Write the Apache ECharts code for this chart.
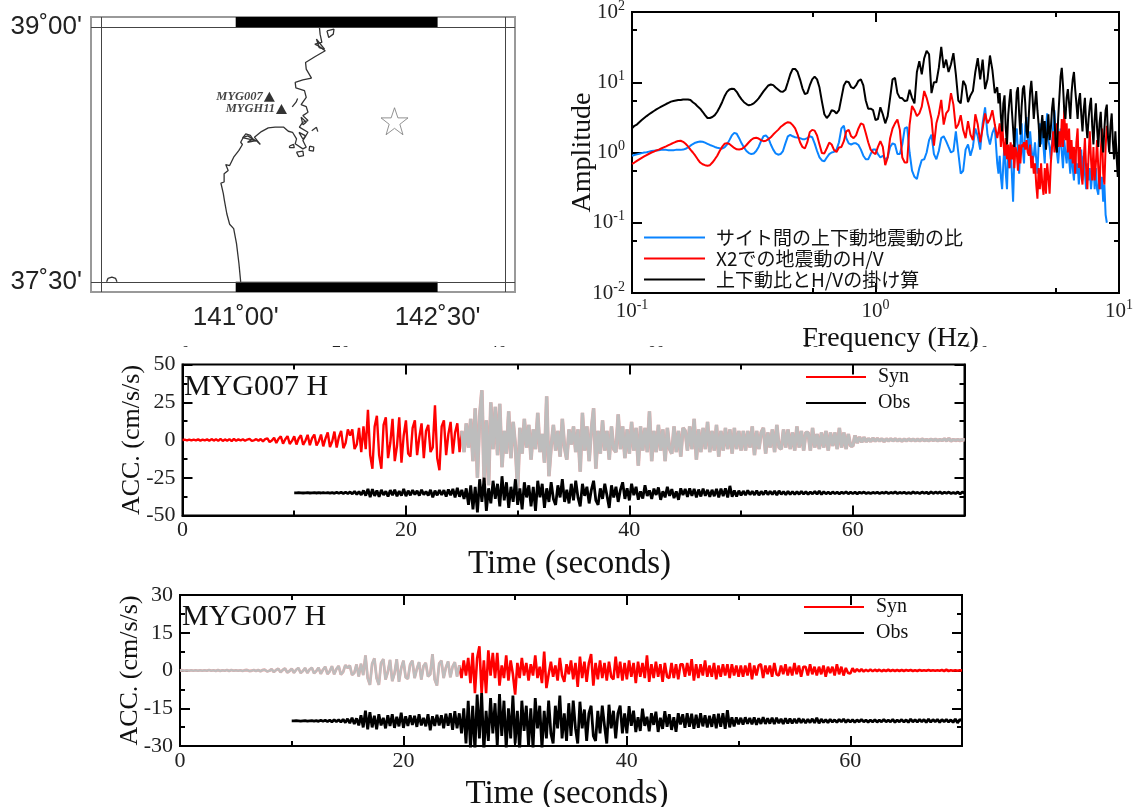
<!DOCTYPE html>
<html><head><meta charset="utf-8">
<style>html,body{margin:0;padding:0;background:#fff}#c{width:1134px;height:807px}</style>
<script src="https://cdn.jsdelivr.net/npm/echarts@6/dist/echarts.min.js"></script>
</head><body><div id="c"></div>
<script>
// ---------- map ----------
const coastLon=[141.037,141.024,141.006,140.985,140.955,140.934,140.916,140.908,140.890,140.914,140.914,140.944,140.926,140.955,140.985,141.024,141.05,141.037,141.057,141.075,141.109,141.126,141.088,141.152,141.183,141.139,141.191,141.242,141.293,141.357,141.391,141.422,141.452,141.442,141.499,141.524,141.499,141.537,141.473,141.499,141.537,141.499,141.537,141.524,141.486,141.524,141.511,141.447,141.442,141.499,141.563,141.524,141.519,141.588,141.665,141.614,141.588,141.64,141.627,141.622];
const coastLat=[37.5,37.608,37.725,37.813,37.839,37.901,37.98,38.019,38.082,38.088,38.136,38.156,38.191,38.185,38.234,38.274,38.309,38.322,38.352,38.371,38.362,38.342,38.322,38.332,38.309,38.352,38.385,38.407,38.411,38.411,38.387,38.381,38.342,38.313,38.283,38.293,38.332,38.381,38.411,38.44,38.45,38.479,38.499,38.532,38.544,38.587,38.626,38.642,38.675,38.689,38.7,38.753,38.792,38.826,38.861,38.89,38.9,38.91,38.959,39.0];
const islandLon=[141.452,141.499,141.504,141.468,141.452,null,141.40,141.43,141.435,141.40,141.40,null,141.55,141.58,141.577,141.545,141.55,null,141.565,141.60,141.61,null,141.678,141.73,141.725,141.691,141.678,null,140.041,140.051,140.080,140.108,140.118,null,141.42,141.45,141.46,null,141.47,141.52,141.50,141.47,null,141.486,141.524,141.50,141.486,null,141.6,141.66,141.62,141.6,null,141.05,141.09,141.15,141.10,141.05];
const islandLat=[38.264,38.27,38.244,38.238,38.264,null,38.30,38.31,38.29,38.29,38.30,null,38.30,38.293,38.27,38.274,38.30,null,38.39,38.41,38.385,null,38.978,38.988,38.959,38.939,38.978,null,37.5,37.52,37.527,37.52,37.5,null,38.53,38.56,38.58,null,38.38,38.36,38.34,38.38,null,38.47,38.44,38.425,38.47,null,38.93,38.87,38.88,38.93,null,38.35,38.36,38.33,38.34,38.35];
const stations=[{name:'MYG007',lon:141.25,lat:38.59},{name:'MYGH11',lon:141.34,lat:38.518}];
const epicenter=[142.18,38.446];
const mapLonTicks=[141,142.5];
const mapLatTicks=[37.5,39];

// ---------- spectra: grid is log10(f)=-1..0.5 at 0.01, then 0.5..1 at 0.005 ----------
const blackAmp=[2.2,2.4,2.5,2.7,2.9,3.1,3.3,3.5,3.7,3.9,
4.1,4.3,4.5,4.7,4.9,5.1,5.3,5.4,5.5,5.6,
5.6,5.7,5.7,5.7,5.6,5.2,4.9,4.5,4.2,3.8,
3.4,3.1,3.1,3.2,3.4,3.8,4.4,5.2,6.3,7.3,
7.9,8.1,8.0,7.3,6.4,5.7,5.2,4.9,4.7,4.8,
5.0,5.4,5.9,6.6,7.4,8.2,9.0,9.3,9.1,8.4,
7.9,7.4,7.3,7.8,10,13,15.5,15.5,14,11,
8.2,6.8,7.0,9,11,12,11,8.4,5.3,3.5,
3.1,3.4,4.0,3.9,3.6,4.0,6,9,10.3,10,
8.5,8.2,9,10.5,11,9,5.5,4.2,4.2,4.0,
2.9,3.0,4.4,3.5,2.6,3.3,6,11,11.5,7,
6,5.9,5.4,5.5,7.8,6,5,14,20,13,
22,28,25,7,10,10,16,32,16,21,
14,18,26,13,5.5,5,10.5,9,5.2,6.5,
7.5,14,22,11,21,8,11,24,15,7,
8.5,
5,7,3.2,2,5,6.5,2.2,1.3,3.4,5.5,
8,4,2.2,1.2,3.1,7.2,8.5,3.5,1.8,4.4,
8,9,5,2,1.6,3.6,7.4,10.5,6,3,
5,7.5,4,2.5,1.2,2.2,3.4,1.6,2.8,1.1,
1.8,3.5,1.5,2.2,4.2,6,3,1.3,1,3,
6,12,16,9,4,3,6,8,5,3,
7,11,14,8,5,3,5.5,7,3.5,2,
4,6,2.6,1.6,3,4.6,6,2.4,1.3,3,
5,2.2,1.2,2.6,3.8,1.5,1,2.2,4,4.8,
1.6,1,2.4,3.6,1.4,.8,2,.9,.45,1.4];
const blueAmp=[.9,.92,.94,.96,.98,1.0,1.01,1.03,1.05,1.06,
1.07,1.08,1.09,1.09,1.09,1.08,1.08,1.08,1.09,1.09,
1.09,1.1,1.13,1.18,1.25,1.32,1.38,1.41,1.43,1.42,
1.38,1.33,1.28,1.24,1.2,1.17,1.15,1.14,1.18,1.3,
1.5,1.75,1.9,1.85,1.6,1.35,1.18,1.05,.98,.95,
.97,1.05,1.2,1.45,1.7,1.75,1.6,1.3,1.1,.97,
.93,.95,1.05,1.35,1.7,1.78,1.7,1.65,1.63,1.6,
1.55,1.55,1.6,1.7,1.65,1.35,1.05,.85,.77,.75,
.85,.95,1.0,1.02,1.1,1.4,2.2,2.4,1.6,1.35,
1.3,1.35,1.35,1.28,1.1,.9,.8,.8,.95,1.1,
1.1,.95,.85,.9,.8,.85,1.2,1.35,1.3,.95,
.95,1.3,2.2,2.3,1.0,.55,.45,.42,.6,.78,
.8,1.0,1.5,1.8,.95,.8,1.05,1.6,1.7,1.45,
1.2,1.0,1.05,2.0,1.0,.5,.55,1.1,1.3,.9,
1.2,2.2,1.7,1.1,2.6,4.4,1.8,1.3,1.9,2.3,
.7,
.5,.9,.45,.3,.7,1.4,.5,.3,1.1,.6,
1.3,.5,.2,.8,1.6,2.2,1.0,.5,1.4,2.6,
1.1,.7,2.4,3.2,1.5,1.0,2,1.2,.8,.9,
1.4,.8,.5,1.3,2.6,1.3,3.0,1.2,.7,2.2,
3.6,1.5,1.2,.8,1.4,2.4,4,1.5,1.0,.7,
1.2,2.2,1,.6,1.5,1.0,.7,1.4,.8,.5,
1.2,.6,.4,1,.5,.7,.35,.6,1.1,.4,
.9,.5,.3,.7,.4,.6,.3,.5,.8,.3,
.6,.3,.25,.5,.3,.45,.2,.35,.13,.1];
const redAmp=[.69,.72,.76,.8,.84,.88,.92,.96,1.0,1.03,
1.07,1.1,1.14,1.18,1.22,1.27,1.32,1.37,1.42,1.46,
1.47,1.42,1.33,1.22,1.1,1.0,.9,.8,.72,.68,
.66,.65,.66,.72,.8,.9,1.05,1.2,1.33,1.36,
1.32,1.24,1.16,1.11,1.1,1.12,1.18,1.28,1.4,1.52,
1.6,1.62,1.58,1.5,1.45,1.47,1.55,1.65,1.8,1.95,
2.1,2.3,2.45,2.6,2.7,2.65,2.45,2.2,1.8,1.4,
1.2,1.14,1.4,1.95,2.1,2.05,1.75,1.3,.98,.97,
1.15,1.38,1.3,1.08,1.02,1.18,1.2,1.45,2.0,2.1,
1.7,1.6,1.75,2.2,2.6,2.5,1.9,1.4,1.1,1.0,
.95,1.2,1.45,1.2,.66,.85,1.6,2.2,2.6,2.95,
2.1,.85,.72,.72,2.5,4.6,4.0,3.3,3.6,4.5,
7.5,6,4.4,3,1.25,2.6,3.5,5.6,2.5,3.6,
4,7,4.8,2.2,2.5,3.4,2.1,1.6,2.8,1.8,
1.5,3.5,2.5,1.4,2.2,3.6,2.6,3.0,4.0,2.5,
1.6,
2.0,2.6,1.2,2.8,1.4,.9,1.6,.8,1.3,.6,
1.4,.8,1.3,.6,1.2,1.0,.55,1.3,.7,1.3,
1.2,1.4,1.1,1.5,1.0,.9,1.3,.6,.9,.5,
.7,.35,.22,.6,.3,.7,.35,.25,.6,.26,
.7,.45,.26,.7,1.2,2,1.0,1.6,2.6,1.2,
2,1.2,3,1.2,4,1.5,2.6,1.0,2.2,.8,
1.5,.7,1.2,.5,1.4,2.2,.6,1.2,.5,.35,
.8,1.6,.6,.3,.9,2,.8,.4,1.2,.4,
.7,1.5,.6,.3,1.0,2.2,.5,.35,1.2,2.4];
const spectrumNames=['サイト間の上下動地震動の比','X2での地震動のH/V','上下動比とH/Vの掛け算'];

// ---------- waveforms, 0.2 s samples ----------
const synDt=0.2, obsStart=10, obsDt=0.2, grayFrom=125;
const syn1=[0,.2,-.2,.3,-.3,.2,-.3,.4,-.4,.3,-.2,.4,-.5,.6,-.4,.5,-.6,.7,-.6,.4,-.5,.6,-.7,.8,-.5,
.4,-.3,.5,-.5,.3,.7,-.6,-.2,.6,-.5,.7,-.9,.6,1.1,-1.4,-.4,1.5,-2,.8,2.4,-2.4,.5,2.6,-2.6,-.6,
2.4,-3,1,3.2,-3.2,-.5,3.4,-3.4,1.2,3.6,-3.6,-.8,3.6,-4.2,1,5,-4.6,-1,5.6,-5,2,6,-5.4,-2,7,
3,7,-6,-3,8,-8,9,-6,20,-10,-19,9,16,-10,-19,10,15,-12,-2,14,-14,-4,15,-15,3,
13,-9,-11,8,13,-10,2,11,-12,6,10,-8,-5,23,-12,-20,9,13,-10,4,12,-9,5,11,-8,
6,-8,11,-5,14,-14,21,-25,16,33,-28,13,-30,25,-6,22,-10,24,-18,6,-9,19,-12,12,-4,
-33,8,-9,14,-5,10,-13,7,-6,18,-8,4,-15,29,-24,-4,10,-7,6,-11,14,-5,-13,7,-3,
9,-8,7,-21,18,-7,9,-14,7,21,-19,6,-9,13,-7,6,-13,9,-6,-8,17,-6,9,-12,7,
-9,12,-7,8,-17,9,-7,8,-8,19,-14,6,-8,10,-7,7,-14,8,-6,-9,9,-8,6,-11,8,
6,-7,9,-6,14,-13,7,-8,8,-6,12,-8,6,-7,10,-11,6,-7,8,-6,7,-9,8,-6,6,
-7,6,-7,6,-5,9,-10,6,-6,5,8,-9,5,-5,7,-8,10,-5,-6,7,-5,7,-6,5,-7,
9,-5,6,-7,5,5,-7,8,-5,4,-6,5,-5,6,-7,5,-4,5,-6,8,-5,5,-6,4,-4,
-4,3,-2,2,-1.5,1.8,-1.2,1,-1,1.2,-.8,1,-.7,.8,-1,.7,-.6,.8,-.5,.7,-.6,.5,-.7,.5,-.5,
.6,-.4,.5,-.5,.4,-.5,.6,-.4,.3,-.4,.5,-.3,.4,-.4,.3,-.3,.7,-.5,1,-.6,.3,-.3,.2,-.3,.2,0];
const obs1=[0,0,.1,0,-.1,0,.1,-.1,0,.1,-.1,.1,-.1,.2,-.1,.2,-.2,.2,-.3,.3,-.3,.4,-.4,.5,-.5,
.6,-.7,1,-1,.8,-1.4,1.6,-1.8,2.6,-2.8,2.4,-2,1.6,-2.6,2,-1.4,1,-2.4,1.8,-1.6,2,-2.2,1.2,-1.8,2.6,
-2.2,1.4,-1.6,1.8,-1.2,1.4,-1.8,2,-1.2,.9,-1.8,2,-3,1.4,-1.6,1.8,-1.4,1.8,-2.4,2.2,-1.6,2.6,-3,3.4,-2.6,
2,-4,3,-8,5,-11,4,-13,9,-6,10,-12,3,-7,8,-4,6,-9,11,-5,7,-10,4,-6,9,
-8,3,-11,7,-3,5,-9,4,-12,8,-3,6,-10,3,-6,7,-4,-8,5,-3,9,-6,2,-7,6,
-5,8,-3,-9,6,-2,4,-7,2,8,-5,-8,3,-4,6,-2,-10,5,-3,4,-6,2,7,-4,3,
-5,6,-1.5,4,-4.5,1,-3.8,5,-2,1.6,-4,2.8,-1.4,3.6,-4.6,1,-3,4,-2,2.5,-3.5,1,-4.6,3,-1.5,
2.6,-2.6,3,-2,2.6,-3,2.2,-2.4,2.8,-2,2,-2.6,2,-2.2,2.6,-3,2.8,-2.2,3,-3,4.6,-2.6,1.6,-2.4,1.4,
-1.6,1.2,-1.5,1.6,-1.2,1,-1.4,1.5,-1.6,1,-1.2,1.4,-1.2,1,-1,1.2,-1.4,1.3,-.9,.8,-1.2,1,-1,.9,-1,
.8,-.9,1,-.8,.7,-1,.6,-.7,.9,-.8,1.2,-1,.7,-.6,.5,-.7,.6,-.5,.4,-.6,.5,-.4,.6,-.6,.5,
-.5,.4,-.6,.4,-.3,.5,-.4,.3,-.5,.3,-.3,.4,-.5,.3,-.3,.5,-.4,.3,-.3,.6,-.5,.3,-.3,.4,-.4,
.3,-.5,.6,-.3,.3,-.4,.5,-.3,.4,-.6,.6,-.4,.5,-.3,.6,-.5,.4,-.3,.5,-.4,.3,-.5,.6,-.8,.5,0];
const obs1Offset=-35;
const syn2=[0,.1,-.1,.1,-.1,.1,-.1,.1,-.1,.1,-.1,.1,-.1,.2,-.1,.1,-.2,.2,-.2,.1,-.1,.2,-.2,.2,-.1,
.1,-.1,.1,-.2,.1,.2,-.2,-.1,.2,-.2,.2,-.3,.2,.3,-.4,-.1,.5,-.6,.2,.7,-.7,.2,.8,-.8,-.2,
.7,-.9,.3,1,-1,-.2,1,-1,.4,1.1,-1.1,-.2,1.1,-1.3,.3,1.5,-1.4,-.3,1.7,-1.5,.6,1.8,-1.6,-.6,2.1,
1,2,-1.8,-1,2.4,-2.4,2.7,-1.8,6,-3,-5.7,2.7,4.8,-3,-5.7,3,4.5,-3.6,-.6,4.2,-4.2,-1.2,4.5,-4.5,.9,
3.9,-2.7,-3.3,2.4,3.9,-3,.6,3.3,-3.6,1.8,3,-2.4,-1.5,6.5,-3.6,-6,2.7,3.9,-3,1.2,3.6,-2.7,1.5,3.3,-2.4,
2,-3,4,-2,5,-5,7,-9,5,9.6,-9,4,-9,8,-2,7,-3,7,-6,2,-3,6,-4,4,-1.5,
-9.6,3,-3,5,-2,3,-4,2.5,-2,6,-3,1.5,-5,7.5,-7,-1.5,3.5,-2.5,2,-4,5,-2,-4.5,2.5,-1.5,
4,-3.5,3,-6.5,5.5,-3,3.5,-4.5,3,6.5,-6,3,-3.5,4,-3,3,-4,3.5,-2.5,-3.5,5.5,-3,3.5,-4,3,
-3.5,4,-2.5,3,-5,3.5,-2.5,3,-3,6,-4.5,2.5,-3,3.5,-2.5,2.5,-4.5,3,-2.5,-3,3,-3,2.5,-3.5,2.5,
2.5,-2.5,3,-2,4.5,-4,2.5,-3,2.5,-2,4,-2.5,2,-2.5,3,-3.5,2,-2.5,2.5,-2,2.5,-3,2.5,-2,2,
-2.5,2,-2.5,2,-2,3,-3.5,2,-2,2,2.5,-3,2,-1.5,2,-2.5,3,-1.5,-2,2,-1.5,2.5,-2,1.5,-2,
3,-1.5,2,-2.5,1.5,1.5,-2,2.5,-1.5,1.5,-2,1.5,-1.5,2,-2.5,1.5,-1,1.5,-2,2.5,-1.5,1.5,-2,1,-1,
-1.2,.9,-.6,.6,-.4,.5,-.4,.3,-.3,.4,-.3,.3,-.2,.3,-.3,.2,-.2,.3,-.2,.2,-.2,.2,-.2,.2,-.2,
.2,-.1,.2,-.2,.1,-.2,.2,-.1,.1,-.1,.2,-.1,.1,-.1,.1,-.1,.2,-.2,.3,-.2,.1,-.1,.1,-.1,.1,0];
const obs2=[0,0,.1,0,-.1,0,.1,-.1,0,.1,-.1,.1,-.2,.2,-.2,.2,-.3,.3,-.4,.4,-.3,.4,-.5,.6,-.7,
.8,-.9,1.2,-1.3,1,-1.8,2.2,-2.6,4,-3.4,3.4,-2.6,2,-3.4,2.6,-1.8,1.2,-3,2.2,-2,2.6,-2.8,1.6,-2.2,3.2,
-2.8,1.8,-2,2.2,-1.6,2,-2.4,2.6,-1.8,1.2,-2.2,2.6,-3.8,1.8,-2,2.4,-1.8,2.2,-3,2.8,-2,3,-3.6,3.8,-3,
3,-5,5,-9,8,-11,6,-12,10.4,-7,11,-12,4,-8,9,-5,7,-10,10.6,-6,8,-11,5,-7,10,
-9,4,-12,8,-4,6,-10,5,-11,9,-3,6,-11,4,-7,8,-5,-9,6,-3,10,-7,3,-8,7,
-6,8,-3,-9,7.6,-3,4.5,-8,3,6,-6,-8,4,-5,6,-2,-9,6.4,-3,4,-7,3,6,-5,3,
-5,5.8,-2,4,-4.5,1.4,-4,4.8,-2,1.6,-4.2,3,-1.6,3.6,-4.4,1.2,-3.2,3.8,-2.4,2.6,-3.6,1.4,-4.4,3,-1.4,
2.6,-2.8,3,-2.4,2.8,-3.2,2.4,-2.8,3,-2.2,2.2,-2.6,2,-2.4,2.6,-3,2.8,-2.4,3,-3.2,4.2,-2.6,1.4,-2.2,1.4,
-1.4,1.2,-1.5,1.4,-1.2,1.1,-1.4,1.4,-1.6,1,-1.2,1.4,-1.2,1,-1.1,1.2,-1.3,1.2,-.9,.8,-1.2,1,-1,.9,-1,
.8,-.9,1,-.8,.7,-.9,.6,-.7,.8,-.8,1.2,-1,.7,-.6,.5,-.7,.6,-.5,.4,-.6,.6,-.4,.7,-.6,.5,
-.5,.5,-.6,.4,-.4,.5,-.4,.3,-.5,.3,-.4,.4,-.5,.3,-.4,.5,-.4,.3,-.4,.6,-.6,.3,-.4,.5,-.5,
.4,-.6,.7,-.4,.4,-.5,.6,-.4,.5,-.6,.7,-.5,.5,-.4,.6,-.6,.5,-.4,.6,-.5,.4,-.6,.7,-.8,.5,0];
const obs2Offset=-20;
const timeMajor=[0,20,40,60], timeMinor=[10,30,50];
const hiddenPlotTicks=['0','20','40','60','80','100'];

// ---------- build ----------
const serif='Liberation Serif', sans='Liberation Sans';
const logFreq=[];
for(let i=0;i<=150;i++)logFreq.push(-1+i*0.01);
for(let i=1;i<=100;i++)logFreq.push(0.5+i*0.005);
const freq=logFreq.map(v=>Math.pow(10,v));
const spec=a=>a.map((v,i)=>[freq[i],v]);
const synPts=(a)=>a.map((v,i)=>[+(i*synDt).toFixed(1),v]);
const obsPts=(a,o)=>a.map((v,i)=>[+(obsStart+i*obsDt).toFixed(1),v+o]);

const grids=[
 {left:91,top:17,width:424,height:275,show:true,borderColor:'#999',borderWidth:2,outerBoundsMode:'none'},
 {left:632,top:12,width:487,height:281,show:true,borderColor:'#000',borderWidth:2,outerBoundsMode:'none'},
 {left:182.5,top:364.5,width:782,height:151,show:true,borderColor:'#000',borderWidth:2,outerBoundsMode:'none'},
 {left:180,top:595,width:782,height:151,show:true,borderColor:'#000',borderWidth:2,outerBoundsMode:'none'}
];
const xAxis=[],yAxis=[];
const dms=v=>{const d=Math.floor(v),m=Math.round((v-d)*60);return d+"˚"+String(m).padStart(2,'0')+"'";};
// map
xAxis.push({gridIndex:0,type:'value',min:139.925,max:143.075,splitLine:{show:false},axisLine:{show:false,onZero:false},
 axisTick:{show:false},axisLabel:{customValues:mapLonTicks,margin:13,fontFamily:sans,fontSize:26,color:'#222',formatter:dms}});
yAxis.push({gridIndex:0,type:'value',min:37.44,max:39.06,splitLine:{show:false},axisLine:{show:false,onZero:false},
 axisTick:{show:false},axisLabel:{customValues:mapLatTicks,margin:9,padding:[8,0,0,0],fontFamily:sans,fontSize:26,color:'#222',formatter:dms}});
// spectrum
const powLabel=v=>'10{s|'+Math.round(Math.log10(v))+'}';
const rich={s:{fontFamily:serif,fontSize:14,color:'#222',padding:[0,0,12,0]}};
const specLine={show:true,onZero:false,lineStyle:{color:'#000',width:2}};
xAxis.push({gridIndex:1,type:'log',logBase:10,min:.1,max:10,position:'bottom',splitLine:{show:false},axisLine:specLine,
 name:'Frequency (Hz)',nameLocation:'middle',nameGap:32,nameMoveOverlap:false,nameTextStyle:{fontFamily:serif,fontSize:28,color:'#111',padding:[0,0,0,30]},
 axisTick:{inside:true,length:10,lineStyle:{width:2,color:'#000'}},minorTick:{show:true,splitNumber:2,length:5,lineStyle:{width:2,color:'#000'}},
 axisLabel:{formatter:powLabel,rich,fontFamily:serif,fontSize:21,color:'#222',margin:5}});
xAxis.push({gridIndex:1,type:'log',logBase:10,min:.1,max:10,position:'top',splitLine:{show:false},axisLine:specLine,
 axisTick:{inside:true,length:10,lineStyle:{width:2,color:'#000'}},minorTick:{show:true,splitNumber:2,length:5,lineStyle:{width:2,color:'#000'}},axisLabel:{show:false}});
yAxis.push({gridIndex:1,type:'log',logBase:10,min:.01,max:100,position:'left',splitLine:{show:false},axisLine:specLine,
 name:'Amplitude',nameLocation:'middle',nameRotate:90,nameGap:35,nameMoveOverlap:false,nameTextStyle:{fontFamily:serif,fontSize:28,color:'#111'},
 axisTick:{inside:true,length:10,lineStyle:{width:2,color:'#000'}},minorTick:{show:true,splitNumber:2,length:5,lineStyle:{width:2,color:'#000'}},
 axisLabel:{formatter:powLabel,rich,fontFamily:serif,fontSize:21,color:'#222',margin:7}});
yAxis.push({gridIndex:1,type:'log',logBase:10,min:.01,max:100,position:'right',splitLine:{show:false},axisLine:specLine,
 axisTick:{inside:true,length:10,lineStyle:{width:2,color:'#000'}},minorTick:{show:true,splitNumber:2,length:5,lineStyle:{width:2,color:'#000'}},axisLabel:{show:false}});
// waves
const waveXIdx={};
function waveAxes(g,ymax,step){
 const base={gridIndex:g,type:'value',min:0,max:70,splitLine:{show:false},minorTick:{show:false}};
 const noLine={show:false,onZero:false};
 waveXIdx[g]=xAxis.length;
 xAxis.push({...base,position:'bottom',axisLine:{show:true,onZero:false,lineStyle:{color:'#000',width:2}},
  name:'Time (seconds)',nameLocation:'middle',nameGap:32,nameMoveOverlap:false,nameTextStyle:{fontFamily:serif,fontSize:33,color:'#111',padding:[0,8,0,0]},
  axisTick:{customValues:timeMajor,inside:true,length:10,lineStyle:{width:2,color:'#000'}},
  axisLabel:{customValues:timeMajor,fontFamily:serif,fontSize:22,color:'#222',margin:4}});
 xAxis.push({...base,position:'bottom',axisLine:noLine,axisLabel:{show:false},axisTick:{customValues:timeMinor,inside:true,length:5,lineStyle:{width:2,color:'#000'}}});
 xAxis.push({...base,position:'top',axisLine:noLine,axisLabel:{show:false},axisTick:{customValues:timeMajor,inside:true,length:10,lineStyle:{width:2,color:'#000'}}});
 xAxis.push({...base,position:'top',axisLine:noLine,axisLabel:{show:false},axisTick:{customValues:timeMinor,inside:true,length:5,lineStyle:{width:2,color:'#000'}}});
 const yb={gridIndex:g,type:'value',min:-ymax,max:ymax,interval:step,splitLine:{show:false},
  axisTick:{inside:true,length:10,lineStyle:{width:2,color:'#000'}},minorTick:{show:true,splitNumber:2,length:5,lineStyle:{width:2,color:'#000'}}};
 const yi=yAxis.length;
 yAxis.push({...yb,position:'left',axisLine:{show:true,onZero:false,lineStyle:{color:'#000',width:2}},
  name:'ACC. (cm/s/s)',nameLocation:'middle',nameRotate:90,nameGap:37,nameMoveOverlap:false,nameTextStyle:{fontFamily:serif,fontSize:26,color:'#111'},
  axisLabel:{fontFamily:serif,fontSize:22,color:'#222',margin:7}});
 yAxis.push({...yb,position:'right',axisLine:{show:true,onZero:false,lineStyle:{color:'#000',width:2}},axisLabel:{show:false}});
 return yi;
}
const y2=waveAxes(2,50,25), y3=waveAxes(3,30,15);

const line=(name,data,color,width,xi,yi,z)=>({name,type:'line',data,xAxisIndex:xi,yAxisIndex:yi,symbol:'none',silent:true,
 lineStyle:{color,width},itemStyle:{color},z:z||2,animation:false});
const starPath='path://M50,2 L62,37 98,37 69,59 80,95 50,73 20,95 31,59 2,37 38,37 Z';
const pts1=synPts(syn1), pts2=synPts(syn2);
const series=[
 {name:'coast',type:'line',data:coastLon.map((v,i)=>[v,coastLat[i]]),xAxisIndex:0,yAxisIndex:0,symbol:'none',silent:true,
  lineStyle:{color:'#333',width:1.3},itemStyle:{color:'#333'},
  markLine:{silent:true,symbol:'none',label:{show:false},lineStyle:{color:'#444',width:1,type:'solid'},
   data:[{xAxis:140},{xAxis:143},{yAxis:37.5},{yAxis:39}]},
  markArea:{silent:true,itemStyle:{color:'#000'},data:[[{xAxis:141,yAxis:39.0},{xAxis:142.5,yAxis:39.06}],[{xAxis:141,yAxis:37.44},{xAxis:142.5,yAxis:37.5}]]}},
 {name:'islands',type:'line',data:islandLon.map((v,i)=>[v,islandLat[i]]),xAxisIndex:0,yAxisIndex:0,symbol:'none',silent:true,connectNulls:false,lineStyle:{color:'#333',width:1.3}},
 {name:'stations',type:'scatter',data:stations.map(s=>({value:[s.lon,s.lat],name:s.name})),xAxisIndex:0,yAxisIndex:0,symbol:'triangle',symbolSize:[11,10],silent:true,
  itemStyle:{color:'#000'},label:{show:true,position:'left',distance:1,formatter:'{b}',fontFamily:serif,fontStyle:'italic',fontWeight:'bold',fontSize:12.5,color:'#111'}},
 {name:'epicenter',type:'scatter',data:[epicenter],xAxisIndex:0,yAxisIndex:0,symbol:starPath,symbolSize:27,silent:true,itemStyle:{color:'#fff',borderColor:'#777',borderWidth:1}},
 line(spectrumNames[0],spec(blueAmp),'#0a84ff',2,1,1,2),
 line(spectrumNames[1],spec(redAmp),'#ff0000',2,1,1,3),
 line(spectrumNames[2],spec(blackAmp),'#000',2,1,1,4),
 line('Syn',pts1.slice(0,grayFrom+1),'#ff0000',2.4,waveXIdx[2],y2,2),
 line('Syn pink',pts1.slice(grayFrom),'#e8a8a8',3.6,waveXIdx[2],y2,2),
 line('Syn gray',pts1.slice(grayFrom),'#bdbdbd',3,waveXIdx[2],y2,3),
 line('Obs',obsPts(obs1,obs1Offset),'#000',2.8,waveXIdx[2],y2,4),
 line('Syn',pts2.slice(grayFrom),'#ff0000',2.6,waveXIdx[3],y3,2),
 line('Syn pink',pts2.slice(0,grayFrom+1),'#e8a8a8',2.8,waveXIdx[3],y3,2),
 line('Syn gray',pts2.slice(0,grayFrom+1),'#bdbdbd',2.2,waveXIdx[3],y3,3),
 line('Obs',obsPts(obs2,obs2Offset),'#000',2.8,waveXIdx[3],y3,4)
];
const legendBase={orient:'vertical',icon:'rect',itemHeight:2,padding:0,selectedMode:false};
const option={animation:false,backgroundColor:'#fff',grid:grids,xAxis,yAxis,series,
 legend:[
  {...legendBase,data:spectrumNames,left:644,top:228,itemWidth:61,itemGap:2,textStyle:{fontFamily:'Noto Sans CJK JP',fontSize:19,color:'#111',padding:[0,0,0,6]}},
  {...legendBase,data:['Syn','Obs'],left:806,top:367,itemWidth:60,itemGap:6,textStyle:{fontFamily:serif,fontSize:20,color:'#111',padding:[0,0,0,7]}},
  {...legendBase,data:['Syn','Obs'],left:804,top:597,itemWidth:60,itemGap:6,textStyle:{fontFamily:serif,fontSize:20,color:'#111',padding:[0,0,0,7]}}
 ],
 title:[
  {text:'MYG007 H',left:184,top:372,padding:0,textStyle:{fontFamily:serif,fontWeight:'normal',fontSize:30,color:'#111'}},
  {text:'MYG007 H',left:182,top:602,padding:0,textStyle:{fontFamily:serif,fontWeight:'normal',fontSize:30,color:'#111'}}
 ],
 graphic:{elements:[
  ...hiddenPlotTicks.map((t,i)=>({type:'text',z:-2,left:[181,332,489,647,802,962][i],top:333,style:{text:t,font:'18px "Liberation Serif"',fill:'#222'}})),
  {type:'rect',z:-1,shape:{x:170,y:325,width:830,height:21},style:{fill:'#fff'}}
 ]}};
echarts.init(document.getElementById('c')).setOption(option);
</script></body></html>
